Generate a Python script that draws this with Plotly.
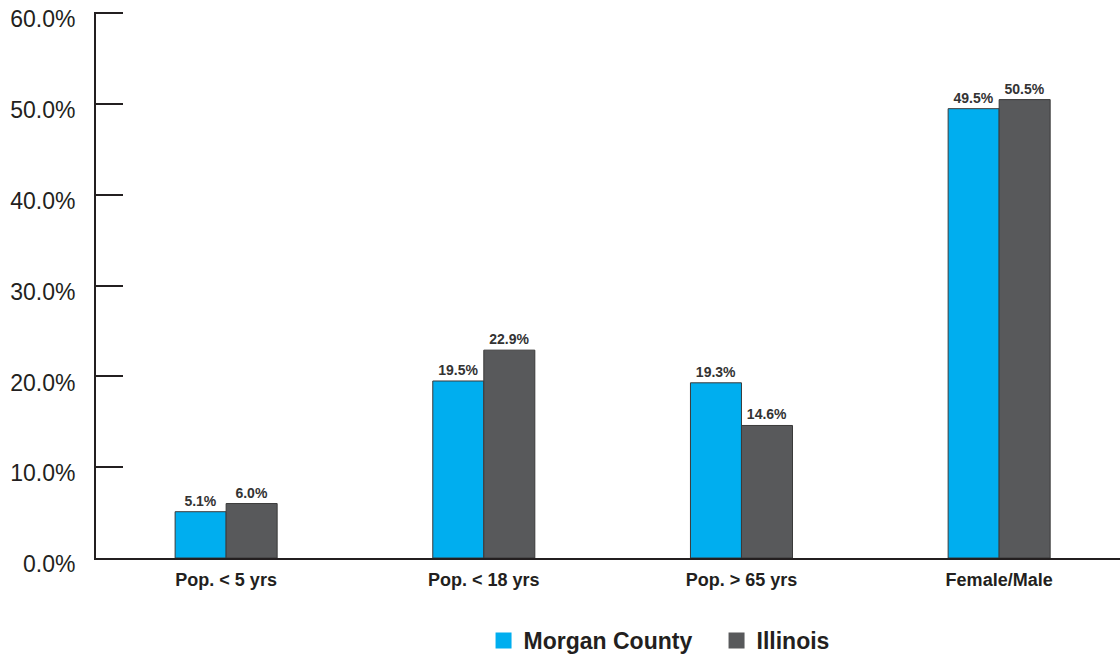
import plotly.graph_objects as go

categories = ["Pop. < 5 yrs", "Pop. < 18 yrs", "Pop. > 65 yrs", "Female/Male"]
morgan = [5.1, 19.5, 19.3, 49.5]
illinois = [6.0, 22.9, 14.6, 50.5]
y_ticks = [0, 10, 20, 30, 40, 50, 60]
y_tick_labels = ["0.0%", "10.0%", "20.0%", "30.0%", "40.0%", "50.0%", "60.0%"]

series = [
    ("Morgan County", morgan, "#00AEEF"),
    ("Illinois", illinois, "#58595B"),
]

label_font = dict(family="Liberation Sans, Arial", size=14, color="#333333", weight="bold")

fig = go.Figure()
for name, values, color in series:
    fig.add_trace(go.Bar(
        name=name, x=categories, y=values,
        marker=dict(color=color, line=dict(color="#3a3a3a", width=1)),
        text=[f"{v:.1f}%" for v in values], textposition="outside",
        textfont=label_font, cliponaxis=False, showlegend=False,
    ))
# legend entries with larger square swatches
for name, values, color in series:
    fig.add_trace(go.Scatter(
        name=name, x=[None], y=[None], mode="markers",
        marker=dict(symbol="square", size=17, color=color),
        showlegend=True,
    ))

fig.update_layout(
    width=1120, height=656,
    margin=dict(l=96, r=0, t=12, b=98, autoexpand=False),
    paper_bgcolor="white", plot_bgcolor="white",
    barmode="group", bargap=0.604, bargroupgap=0,
    font=dict(family="Liberation Sans, Arial", color="#231F20"),
    showlegend=True,
    legend=dict(orientation="h", x=0.606, xanchor="center", y=-0.151, yanchor="middle",
                font=dict(size=23, color="#231F20", weight="bold"),
                itemwidth=30, entrywidth=188, entrywidthmode="pixels",
                traceorder="normal"),
)
fig.update_xaxes(
    range=[-0.505, 3.469],
    showline=True, linecolor="#231F20", linewidth=2,
    showgrid=False, ticks="", tickfont=dict(size=18, color="#231F20", weight="bold"),
    ticklabelstandoff=4,
)
fig.update_yaxes(
    range=[0, 60.15], tickvals=y_ticks, ticktext=y_tick_labels,
    showline=True, linecolor="#231F20", linewidth=2,
    showgrid=False, zeroline=False,
    ticks="inside", ticklen=27, tickwidth=2, tickcolor="#231F20",
    tickfont=dict(size=23, color="#231F20"), ticklabelstandoff=14,
    ticklabelshift=6,
)

fig.write_html("out.html")
